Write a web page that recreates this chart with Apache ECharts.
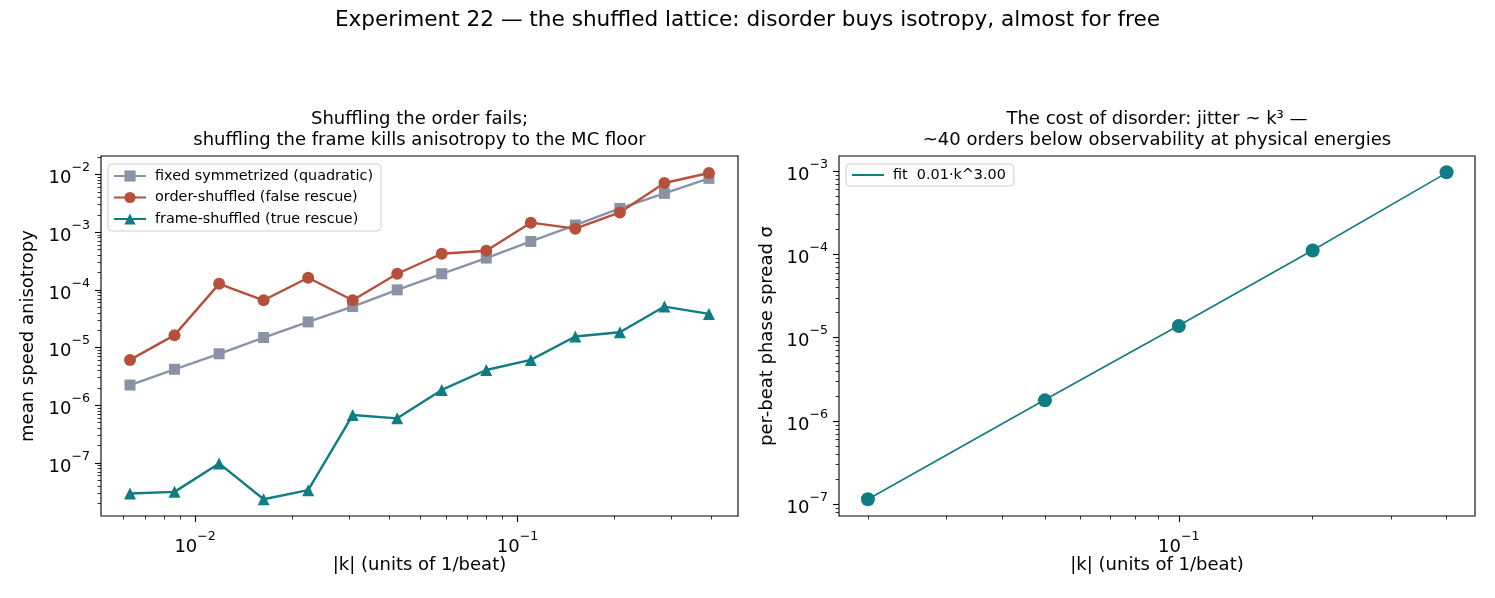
<!DOCTYPE html>
<html><head><meta charset="utf-8">
<script src="https://cdn.jsdelivr.net/npm/echarts@6/dist/echarts.min.js"></script>
<style>html,body{margin:0;padding:0;background:#fff}#c{width:1495px;height:598px}</style>
</head><body><div id="c"></div>
<script>
// ---- data ----
const kLeft = [0.00628, 0.00863, 0.01187, 0.01631, 0.02242, 0.03081, 0.04235, 0.05821, 0.08001, 0.10997, 0.15116, 0.20777, 0.28558, 0.39253];
const fixedSym = [2.24e-6, 4.2e-6, 7.8e-6, 1.49e-5, 2.78e-5, 5.13e-5, 1.0e-4, 1.9e-4, 3.55e-4, 6.9e-4, 1.33e-3, 2.58e-3, 4.7e-3, 8.56e-3];
const orderShuf = [6.1e-6, 1.64e-5, 1.27e-4, 6.6e-5, 1.62e-4, 6.6e-5, 1.9e-4, 4.22e-4, 4.75e-4, 1.46e-3, 1.15e-3, 2.2e-3, 7.1e-3, 1.06e-2];
const frameShuf = [2.95e-8, 3.15e-8, 9.8e-8, 2.35e-8, 3.37e-8, 6.76e-7, 5.93e-7, 1.84e-6, 4.08e-6, 6.1e-6, 1.55e-5, 1.84e-5, 5.13e-5, 3.83e-5];
const kRight = [0.02, 0.05, 0.1, 0.2, 0.4];
const sigma = [1.15e-7, 1.77e-6, 1.38e-5, 1.11e-4, 9.65e-4];
const fitSigma = [1.15e-7, 1.8e-6, 1.4e-5, 1.12e-4, 9.5e-4];
const leftXMajorExp = [-2, -1];
const leftYMajorExp = [-7, -6, -5, -4, -3, -2];
const rightXMajorExp = [-1];
const rightYMajorExp = [-7, -6, -5, -4, -3];
const seriesNames = ['fixed symmetrized (quadratic)', 'order-shuffled (false rescue)', 'frame-shuffled (true rescue)'];
const fitName = 'fit  0.01·k^3.00';
const suptitle = 'Experiment 22 — the shuffled lattice: disorder buys isotropy, almost for free';
const leftTitle = 'Shuffling the order fails;\nshuffling the frame kills anisotropy to the MC floor';
const rightTitle = 'The cost of disorder: jitter ~ k³ —\n~40 orders below observability at physical energies';
const xLabel = '|k| (units of 1/beat)';
const leftYLabel = 'mean speed anisotropy';
const rightYLabel = 'per-beat phase spread σ';

// ---- helpers ----
const L = Math.log10;
const FONT = 'DejaVu Sans';
const C_GRAY = '#8a93a6', C_RED = '#b5503d', C_TEAL = '#107c83';
function minorTicks(lo, hi) {
  const out = [];
  for (let e = Math.floor(lo) - 1; e <= Math.ceil(hi); e++) {
    for (let m = 2; m <= 9; m++) { const v = e + L(m); if (v >= lo && v <= hi) out.push(v); }
  }
  return out;
}
const rich = {
  b: {fontSize: 18, fontFamily: FONT, color: '#000', verticalAlign: 'bottom', lineHeight: 26},
  s: {fontSize: 12.6, fontFamily: FONT, color: '#000', verticalAlign: 'top', lineHeight: 14}
};
function fmt(v) { const e = Math.round(v); return '{b|10}{s|' + (e < 0 ? '\u2212' : '') + Math.abs(e) + '}'; }
const nameStyle = {fontSize: 18, fontFamily: FONT, color: '#000'};
function majorAxis(gi, min, max, majors, margin, extra) {
  return Object.assign({
    gridIndex: gi, type: 'value', min: min, max: max,
    axisLine: {show: false}, splitLine: {show: false},
    axisTick: {show: true, customValues: majors, length: 6, lineStyle: {color: '#000', width: 1.1}},
    axisLabel: {show: true, customValues: majors, formatter: fmt, rich: rich, margin: margin}
  }, extra);
}
function minorAxis(gi, min, max, extra) {
  return Object.assign({
    gridIndex: gi, type: 'value', min: min, max: max,
    axisLine: {show: false}, splitLine: {show: false},
    axisTick: {show: true, customValues: minorTicks(min, max), length: 3.5, lineStyle: {color: '#000', width: 0.8}},
    axisLabel: {show: false}
  }, extra);
}
const LX = [-2.292, -0.316], LY = [-7.92, -1.68];
const RX = [-1.764, -0.334], RY = [-7.14, -2.82];
const legendText = {fontSize: 14.4, fontFamily: FONT, color: '#000', padding: [0, 0, 0, 4]};

const chart = echarts.init(document.getElementById('c'), null, {renderer: 'canvas'});
chart.setOption({
  animation: false,
  backgroundColor: '#fff',
  textStyle: {fontFamily: FONT},
  grid: [
    {left: 101, top: 156, width: 637, height: 360, show: true, borderColor: '#000', borderWidth: 1.1, backgroundColor: 'transparent', containLabel: false, outerBoundsMode: 'none'},
    {left: 839, top: 156, width: 636, height: 360, show: true, borderColor: '#000', borderWidth: 1.1, backgroundColor: 'transparent', containLabel: false, outerBoundsMode: 'none'}
  ],
  xAxis: [
    majorAxis(0, LX[0], LX[1], leftXMajorExp, 14, {position: 'bottom', name: xLabel, nameLocation: 'middle', nameGap: 40, nameMoveOverlap: false, nameTextStyle: nameStyle}),
    minorAxis(0, LX[0], LX[1], {position: 'bottom'}),
    majorAxis(1, RX[0], RX[1], rightXMajorExp, 14, {position: 'bottom', name: xLabel, nameLocation: 'middle', nameGap: 40, nameMoveOverlap: false, nameTextStyle: nameStyle}),
    minorAxis(1, RX[0], RX[1], {position: 'bottom'})
  ],
  yAxis: [
    majorAxis(0, LY[0], LY[1], leftYMajorExp, 11, {position: 'left', name: leftYLabel, nameLocation: 'middle', nameGap: 64, nameMoveOverlap: false, nameTextStyle: nameStyle}),
    minorAxis(0, LY[0], LY[1], {position: 'left'}),
    majorAxis(1, RY[0], RY[1], rightYMajorExp, 11, {position: 'left', name: rightYLabel, nameLocation: 'middle', nameGap: 63, nameMoveOverlap: false, nameTextStyle: nameStyle}),
    minorAxis(1, RY[0], RY[1], {position: 'left'})
  ],
  legend: [
    {data: seriesNames, orient: 'vertical', left: 108, top: 164, itemWidth: 32, itemHeight: 14, itemGap: 7.5,
     padding: [5, 8, 5, 5], borderColor: '#d0d0d0', borderWidth: 1, borderRadius: 4, backgroundColor: 'rgba(255,255,255,0.8)',
     textStyle: legendText},
    {data: [fitName], orient: 'vertical', left: 846, top: 164, itemWidth: 32, itemHeight: 14,
     itemStyle: {color: 'rgba(0,0,0,0)', borderColor: 'rgba(0,0,0,0)', borderWidth: 0},
     padding: [4, 8, 4, 5], borderColor: '#d0d0d0', borderWidth: 1, borderRadius: 4, backgroundColor: 'rgba(255,255,255,0.8)',
     textStyle: legendText}
  ],
  graphic: [
    {type: 'text', x: 747.5, y: 9, style: {text: suptitle, fontSize: 21.6, fontFamily: FONT, fill: '#000', align: 'center', verticalAlign: 'top'}},
    {type: 'text', x: 419.5, y: 109, style: {text: leftTitle, fontSize: 18, lineHeight: 21, fontFamily: FONT, fill: '#000', align: 'center', verticalAlign: 'top'}},
    {type: 'text', x: 1157, y: 109, style: {text: rightTitle, fontSize: 18, lineHeight: 21, fontFamily: FONT, fill: '#000', align: 'center', verticalAlign: 'top'}}
  ],
  series: [
    {name: seriesNames[0], type: 'line', xAxisIndex: 0, yAxisIndex: 0, data: kLeft.map((k, i) => [L(k), L(fixedSym[i])]),
     symbol: 'rect', symbolSize: 11, lineStyle: {color: C_GRAY, width: 2.4}, itemStyle: {color: C_GRAY}},
    {name: seriesNames[1], type: 'line', xAxisIndex: 0, yAxisIndex: 0, data: kLeft.map((k, i) => [L(k), L(orderShuf[i])]),
     symbol: 'circle', symbolSize: 12, lineStyle: {color: C_RED, width: 2.4}, itemStyle: {color: C_RED}},
    {name: seriesNames[2], type: 'line', xAxisIndex: 0, yAxisIndex: 0, data: kLeft.map((k, i) => [L(k), L(frameShuf[i])]),
     symbol: 'triangle', symbolSize: 12, lineStyle: {color: C_TEAL, width: 2.4}, itemStyle: {color: C_TEAL}},
    {name: fitName, type: 'line', xAxisIndex: 2, yAxisIndex: 2, data: kRight.map((k, i) => [L(k), L(fitSigma[i])]),
     symbol: 'none', lineStyle: {color: C_TEAL, width: 1.6}, itemStyle: {color: C_TEAL}},
    {name: 'sigma', type: 'scatter', xAxisIndex: 2, yAxisIndex: 2, data: kRight.map((k, i) => [L(k), L(sigma[i])]),
     symbol: 'circle', symbolSize: 14, itemStyle: {color: C_TEAL, opacity: 1}, z: 3}
  ]
});
</script></body></html>
